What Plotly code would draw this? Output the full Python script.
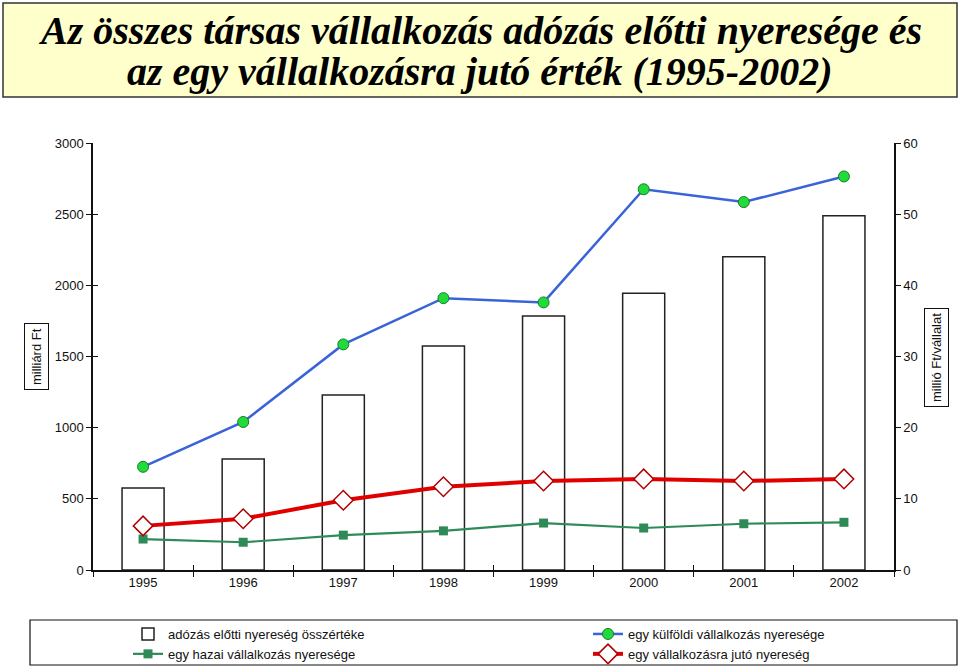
import plotly.graph_objects as go

years = ["1995", "1996", "1997", "1998", "1999", "2000", "2001", "2002"]
total_profit = [576, 780, 1230, 1574, 1785, 1944, 2200, 2488]        # milliárd Ft
foreign_per_firm = [14.5, 20.8, 31.7, 38.2, 37.6, 53.5, 51.7, 55.3]  # millió Ft/vállalat
domestic_per_firm = [4.35, 3.9, 4.9, 5.5, 6.6, 5.9, 6.5, 6.7]
avg_per_firm = [6.2, 7.2, 9.8, 11.7, 12.5, 12.8, 12.5, 12.8]
left_ticks = [0, 500, 1000, 1500, 2000, 2500, 3000]
right_ticks = [0, 10, 20, 30, 40, 50, 60]
title_lines = ["Az összes társas vállalkozás adózás előtti nyeresége és",
               "az egy vállalkozásra jutó érték (1995-2002)"]

FONT = "Liberation Sans, Arial, sans-serif"
W, H = 960, 668
L, R, T, B = 93, 66, 143, 98
PW, PH = W - L - R, H - T - B


def px_x(x):
    return (x - L) / PW


def px_y(y):
    return (H - B - y) / PH


fig = go.Figure()
fig.add_trace(go.Bar(
    x=years, y=total_profit, name="adózás előtti nyereség összértéke",
    marker=dict(color="white", line=dict(color="#222222", width=1.5)),
    width=0.42, xaxis="x", yaxis="y", legend="legend"))
fig.add_trace(go.Scatter(
    x=years, y=domestic_per_firm, name="egy hazai vállalkozás nyeresége",
    mode="lines+markers", line=dict(color="#2e8b57", width=2.2),
    marker=dict(symbol="square", size=9, color="#2e8b57"),
    xaxis="x", yaxis="y2", legend="legend"))
fig.add_trace(go.Scatter(
    x=years, y=foreign_per_firm, name="egy külföldi vállalkozás nyeresége",
    mode="lines+markers", line=dict(color="#3a63d8", width=2.5),
    marker=dict(symbol="circle", size=11, color="#1fdc3a",
                line=dict(color="#1a7a2a", width=1)),
    xaxis="x", yaxis="y2", legend="legend2"))
fig.add_trace(go.Scatter(
    x=years, y=avg_per_firm, name="egy vállalkozásra jutó nyereség",
    mode="lines+markers", line=dict(color="#e00000", width=4),
    marker=dict(symbol="diamond", size=15, color="white",
                line=dict(color="#b00000", width=1.5)),
    xaxis="x", yaxis="y2", legend="legend2"))
# invisible helper trace for overlay tick axes
fig.add_trace(go.Scatter(x=years, y=total_profit, mode="markers",
                         marker=dict(opacity=0), showlegend=False,
                         hoverinfo="skip", xaxis="x3", yaxis="y3"))

tickfont = dict(family=FONT, size=13, color="#111111")
legfont = dict(family=FONT, size=13, color="#111")
title_font = dict(family="Liberation Serif, Times New Roman, serif",
                  size=40, color="black")

fig.update_layout(
    width=W, height=H,
    margin=dict(l=L, r=R, t=T, b=B, autoexpand=False),
    paper_bgcolor="white", plot_bgcolor="white",
    showlegend=True,
    barmode="overlay",
    xaxis=dict(type="category", categoryorder="array", categoryarray=years,
               range=[-0.5, 7.5], tickson="boundaries", ticks="outside",
               ticklen=5, tickcolor="#111", showline=True, linecolor="#111",
               linewidth=1.5, showgrid=False, tickfont=tickfont,
               zeroline=False, tickangle=0),
    xaxis3=dict(type="category", categoryorder="array", categoryarray=years,
                range=[-0.5, 7.5], overlaying="x", anchor="y", side="bottom",
                tickson="boundaries", ticks="inside", ticklen=5,
                tickcolor="#111", showticklabels=False, showgrid=False,
                showline=False, zeroline=False),
    yaxis=dict(range=[0, 3000], tickvals=left_ticks, ticks="outside",
               ticklen=5, tickcolor="#111", showline=True, linecolor="#111",
               linewidth=1.5, showgrid=False, zeroline=False,
               tickfont=tickfont),
    yaxis3=dict(range=[0, 3000], tickvals=left_ticks, overlaying="y",
                side="left", ticks="inside", ticklen=5, tickcolor="#111",
                showticklabels=False, showgrid=False, showline=False,
                zeroline=False),
    yaxis2=dict(range=[0, 60], tickvals=right_ticks, overlaying="y",
                side="right", anchor="x", ticks="outside", ticklen=5,
                tickcolor="#111", showline=True, linecolor="#111",
                linewidth=1.5, showgrid=False, zeroline=False,
                tickfont=tickfont),
    yaxis4=dict(range=[0, 60], tickvals=right_ticks, overlaying="y",
                side="right", anchor="x", ticks="inside", ticklen=5,
                tickcolor="#111", showticklabels=False, showgrid=False,
                showline=False, zeroline=False),
    legend=dict(xref="container", yref="container", x=128 / W,
                y=1 - 619 / H, xanchor="left", yanchor="top",
                orientation="v", bgcolor="rgba(0,0,0,0)", font=legfont,
                tracegroupgap=0, itemwidth=30),
    legend2=dict(xref="container", yref="container", x=588 / W,
                 y=1 - 619 / H, xanchor="left", yanchor="top",
                 orientation="v", bgcolor="rgba(0,0,0,0)", font=legfont,
                 tracegroupgap=0, itemwidth=30),
    shapes=[
        dict(type="rect", xref="paper", yref="paper",
             x0=px_x(3), x1=px_x(957), y0=px_y(97), y1=px_y(3),
             fillcolor="#ffffcc", line=dict(color="#333333", width=1.5),
             layer="below"),
        dict(type="rect", xref="paper", yref="paper",
             x0=px_x(30), x1=px_x(957), y0=px_y(665), y1=px_y(620),
             fillcolor="rgba(0,0,0,0)", line=dict(color="#111111", width=1.2)),
    ],
    annotations=[
        dict(text="<b><i>" + title_lines[0] + "</i></b>",
             xref="paper", yref="paper", x=px_x(480), y=px_y(31),
             showarrow=False, xanchor="center", yanchor="middle",
             font=title_font),
        dict(text="<b><i>" + title_lines[1] + "</i></b>",
             xref="paper", yref="paper", x=px_x(480), y=px_y(71),
             showarrow=False, xanchor="center", yanchor="middle",
             font=title_font),
        dict(text="milliárd Ft", xref="paper", yref="paper",
             x=px_x(36), y=px_y(357), textangle=-90, showarrow=False,
             font=dict(family=FONT, size=13, color="#111"),
             bordercolor="#111", borderwidth=1, borderpad=4,
             xanchor="center", yanchor="middle"),
        dict(text="millió Ft/vállalat", xref="paper", yref="paper",
             x=px_x(936), y=px_y(357), textangle=-90, showarrow=False,
             font=dict(family=FONT, size=13, color="#111"),
             bordercolor="#111", borderwidth=1, borderpad=4,
             xanchor="center", yanchor="middle"),
    ],
)

fig.write_html("out.html")
